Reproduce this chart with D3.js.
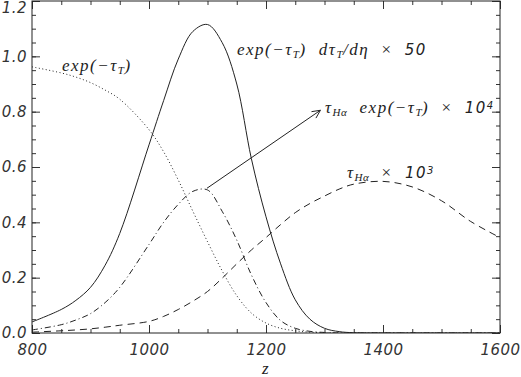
<!DOCTYPE html>
<html>
<head>
<meta charset="utf-8">
<script src="https://cdn.jsdelivr.net/npm/d3@7"></script>
<style>
  body { margin: 0; background: #fff; }
  .tick text { font-family: "DejaVu Sans", sans-serif; font-style: oblique; font-size: 15px; fill: #333; letter-spacing: 0.5px; }
  .lbl { font-family: "Liberation Serif", serif; font-style: italic; font-size: 17px; fill: #222; letter-spacing: 1.5px; word-spacing: 6.5px; }
  .num { font-family: "DejaVu Sans", sans-serif; font-style: oblique; }
</style>
</head>
<body>
<div id="chart"></div>
<script>
// z grid shared by every curve
const zValues = [800, 850, 875, 900, 925, 950, 1000, 1025, 1050, 1075, 1100, 1125, 1150, 1175, 1200,
                 1225, 1250, 1275, 1300, 1325, 1350, 1400, 1450, 1500, 1550, 1600];

// exp(-tau_T) dtau_T/deta x 50  (solid)
const visibility = [0.04, 0.085, 0.118, 0.165, 0.245, 0.36, 0.68, 0.84, 0.99, 1.09, 1.115, 1.05, 0.90, 0.63, 0.42,
                    0.25, 0.12, 0.05, 0.017, 0.005, 0.001, 0, 0, 0, 0, 0];

// exp(-tau_T)  (dotted)
const transmission = [0.962, 0.94, 0.925, 0.905, 0.878, 0.845, 0.735, 0.655, 0.553, 0.44, 0.33, 0.225, 0.135, 0.072, 0.036,
                      0.017, 0.008, 0.003, 0.001, 0, 0, 0, 0, 0, 0, 0];

// tau_Ha exp(-tau_T) x 10^4  (dash dot)
const halphaVis = [0.011, 0.03, 0.047, 0.07, 0.11, 0.165, 0.32, 0.40, 0.465, 0.512, 0.517, 0.44, 0.336, 0.21, 0.11,
                   0.045, 0.017, 0.006, 0.002, 0, 0, 0, 0, 0, 0, 0];

// tau_Ha x 10^3  (dashed)
const halphaTau = [0.003, 0.008, 0.011, 0.015, 0.021, 0.028, 0.042, 0.06, 0.085, 0.115, 0.15, 0.198, 0.25, 0.30, 0.345,
                   0.392, 0.435, 0.468, 0.495, 0.52, 0.538, 0.548, 0.528, 0.478, 0.403, 0.345];

const xTicks = [800, 1000, 1200, 1400, 1600];
const yTicks = [0.0, 0.2, 0.4, 0.6, 0.8, 1.0, 1.2];

// arrow from the dash-dot peak to its label
const arrowFrom = [1099, 0.523];
const arrowTo = [1293, 0.805];

const width = 521, height = 377;
const svg = d3.select("#chart").append("svg")
    .attr("width", width)
    .attr("height", height);

const x = d3.scaleLinear().domain([800, 1600]).range([32, 500]);
const y = d3.scaleLinear().domain([0, 1.2]).range([333, 1]);

const minorX = d3.range(800, 1601, 50);
const minorY = d3.range(0, 1.2001, 0.05);

// axes, ticks pointing inward on all four sides
function drawAxis(axisFn, pos, scale, major, minor, labels, fmt) {
    svg.append("g")
        .attr("transform", pos)
        .call(axisFn(scale).tickValues(minor).tickSizeInner(-4).tickSizeOuter(0).tickFormat(""));
    let g = svg.append("g")
        .attr("transform", pos)
        .call(axisFn(scale).tickValues(major).tickSizeInner(-8).tickSizeOuter(0)
            .tickPadding(labels ? 5 : 0).tickFormat(labels ? fmt : ""));
    return g;
}

let gx = drawAxis(d3.axisBottom, "translate(0,333)", x, xTicks, minorX, true, d3.format("d"));
gx.selectAll("text").attr("dy", "1.1em");
let gy = drawAxis(d3.axisLeft, "translate(32,0)", y, yTicks, minorY, true, d3.format(".1f"));
gy.selectAll("text").attr("x", -5).attr("y", d => d === 1.2 ? 7 : 0);
drawAxis(d3.axisTop, "translate(0,1)", x, xTicks, minorX, false);
drawAxis(d3.axisRight, "translate(500,0)", y, yTicks, minorY, false);

svg.selectAll(".domain").remove();
svg.selectAll(".tick line").attr("stroke", "#333");

svg.append("rect")
    .attr("x", x(800)).attr("y", y(1.2))
    .attr("width", x(1600) - x(800)).attr("height", y(0) - y(1.2))
    .attr("fill", "none").attr("stroke", "#222").attr("stroke-width", 1);

svg.append("clipPath").attr("id", "clip")
    .append("rect")
    .attr("x", x(800)).attr("y", y(1.2))
    .attr("width", x(1600) - x(800)).attr("height", y(0) - y(1.2));

const line = d3.line()
    .x(d => x(d[0]))
    .y(d => y(d[1]))
    .curve(d3.curveCatmullRom.alpha(0.5));

const series = [
    { values: visibility, dash: null },
    { values: transmission, dash: "1,2.5" },
    { values: halphaVis, dash: "6,3,1,3" },
    { values: halphaTau, dash: "7,5" }
];

series.forEach(s => {
    svg.append("path")
        .datum(zValues.map((z, i) => [z, s.values[i]]))
        .attr("clip-path", "url(#clip)")
        .attr("d", line)
        .attr("fill", "none")
        .attr("stroke", "#222")
        .attr("stroke-width", 1)
        .attr("stroke-dasharray", s.dash);
});

// arrow
let ax0 = x(arrowFrom[0]), ay0 = y(arrowFrom[1]);
let ax1 = x(arrowTo[0]), ay1 = y(arrowTo[1]);
let ang = Math.atan2(ay1 - ay0, ax1 - ax0);
svg.append("line")
    .attr("x1", ax0).attr("y1", ay0).attr("x2", ax1).attr("y2", ay1)
    .attr("stroke", "#222");
[-0.45, 0.45].forEach(a => {
    svg.append("line")
        .attr("x1", ax1).attr("y1", ay1)
        .attr("x2", ax1 - 9 * Math.cos(ang + a))
        .attr("y2", ay1 - 9 * Math.sin(ang + a))
        .attr("stroke", "#222");
});

// labels
function label(px, py, parts) {
    let t = svg.append("text").attr("class", "lbl").attr("x", px).attr("y", py);
    parts.forEach(p => {
        let s = t.append("tspan").text(p.t);
        if (p.sub) s.attr("baseline-shift", "-30%").attr("font-size", "11px").attr("letter-spacing", "0.5px");
        if (p.sup) s.attr("baseline-shift", "45%").attr("font-size", "10px").attr("class", "num");
        if (p.num) s.attr("class", "num").attr("font-size", "15px");
        if (p.up) s.attr("font-style", "normal");
    });
}

label(62, 71, [{t: "exp(−τ"}, {t: "T", sub: true}, {t: ")"}]);
label(237, 55, [{t: "exp(−τ"}, {t: "T", sub: true}, {t: ") dτ"}, {t: "T", sub: true},
    {t: "/dη "}, {t: "× ", up: true}, {t: "50", num: true}]);
label(325, 113, [{t: "τ"}, {t: "Hα", sub: true}, {t: " exp(−τ"}, {t: "T", sub: true},
    {t: ") "}, {t: "× ", up: true}, {t: "10", num: true}, {t: "4", sup: true}]);
label(347, 178, [{t: "τ"}, {t: "Hα", sub: true}, {t: " "}, {t: "× ", up: true},
    {t: "10", num: true}, {t: "3", sup: true}]);

svg.append("text")
    .attr("class", "lbl")
    .attr("x", 266).attr("y", 374)
    .attr("text-anchor", "middle")
    .text("z");
</script>
</body>
</html>
